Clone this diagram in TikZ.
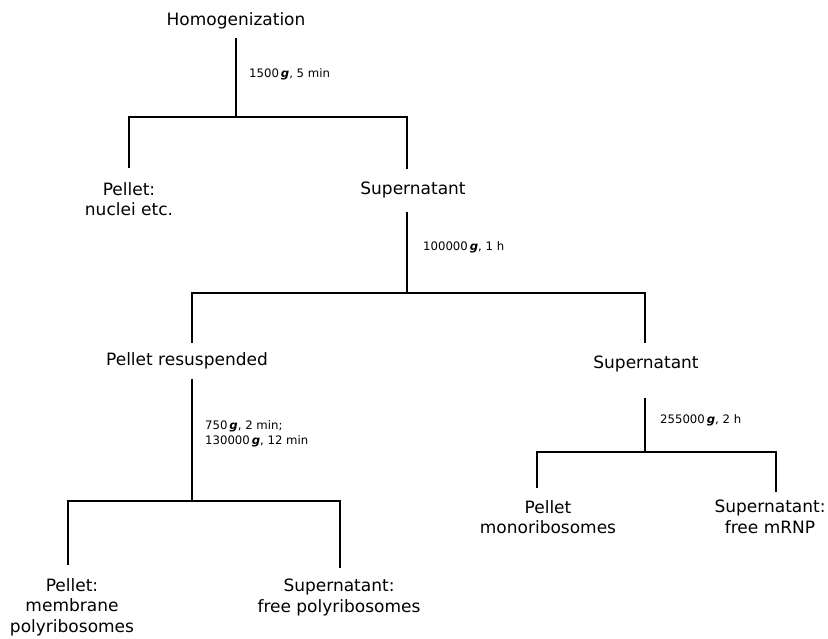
\documentclass[tikz,border=0pt]{standalone}
\usepackage{fontspec}
\setmainfont{DejaVu Sans}
\begin{document}
\begin{tikzpicture}[x=1pt,y=-1pt,
  main/.style={font=\fontsize{17}{20.5}\selectfont, align=center, inner sep=0pt},
  cond/.style={font=\fontsize{11.7}{15}\selectfont, align=left, inner sep=0pt},
  link/.style={line width=1.3pt, line join=miter}]
\useasboundingbox (0,0) rectangle (828,638);
% product nodes
\node[main, anchor=base]  (homog) at (236,25)  {Homogenization};
\node[main, anchor=north] (pel1)  at (129,182) {Pellet:\\nuclei etc.};
\node[main, anchor=base]  (sup1)  at (413,194) {Supernatant};
\node[main, anchor=base]  (pres)  at (187,365) {Pellet resuspended};
\node[main, anchor=base]  (sup2)  at (646,368) {Supernatant};
\node[main, anchor=north] (mono)  at (548,500) {Pellet\\monoribosomes};
\node[main, anchor=north] (mrnp)  at (770,500) {Supernatant:\\free mRNP};
\node[main, anchor=north] (memb)  at (72,578)  {Pellet:\\membrane\\polyribosomes};
\node[main, anchor=north] (free)  at (339,579) {Supernatant:\\free polyribosomes};
% centrifugation conditions
\node[cond, anchor=base west]  (c1) at (249,77)  {1500\,{\bfseries\itshape g}, 5 min};
\node[cond, anchor=base west]  (c2) at (423,250) {100000\,{\bfseries\itshape g}, 1 h};
\node[cond, anchor=north west] (c3) at (205,420) {750\,{\bfseries\itshape g}, 2 min;\\130000\,{\bfseries\itshape g}, 12 min};
\node[cond, anchor=base west]  (c4) at (660,423) {255000\,{\bfseries\itshape g}, 2 h};
% junction points
\coordinate (b1m) at (236,117); \coordinate (b1l) at (129,117); \coordinate (b1r) at (407,117);
\coordinate (b2m) at (407,293); \coordinate (b2l) at (192,293); \coordinate (b2r) at (645,293);
\coordinate (b3m) at (645,452); \coordinate (b3l) at (537,452); \coordinate (b3r) at (776,452);
\coordinate (b4m) at (192,501); \coordinate (b4l) at (68,501);  \coordinate (b4r) at (340,501);
% step 1
\draw[link, shorten <=9pt] (homog.south) -- (b1m);
\draw[link, shorten <=14pt, shorten >=12pt] (b1l |- pel1.north) -- (b1l) -- (b1r) -- (b1r |- sup1.north);
% step 2
\draw[link, shorten <=14pt] (b2m |- sup1.south) -- (b2m);
\draw[link, shorten <=9pt, shorten >=12pt] (b2l |- pres.north) -- (b2l) -- (b2r) -- (b2r |- sup2.north);
% step 3 (right)
\draw[link, shorten <=26pt] (b3m |- sup2.south) -- (b3m);
\draw[link, shorten <=12pt, shorten >=8pt] (b3l |- mono.north) -- (b3l) -- (b3r) -- (b3r |- mrnp.north);
% step 3 (left)
\draw[link, shorten <=10pt] (b4m |- pres.south) -- (b4m);
\draw[link, shorten <=13pt, shorten >=11pt] (b4l |- memb.north) -- (b4l) -- (b4r) -- (b4r |- free.north);
\end{tikzpicture}
\end{document}
